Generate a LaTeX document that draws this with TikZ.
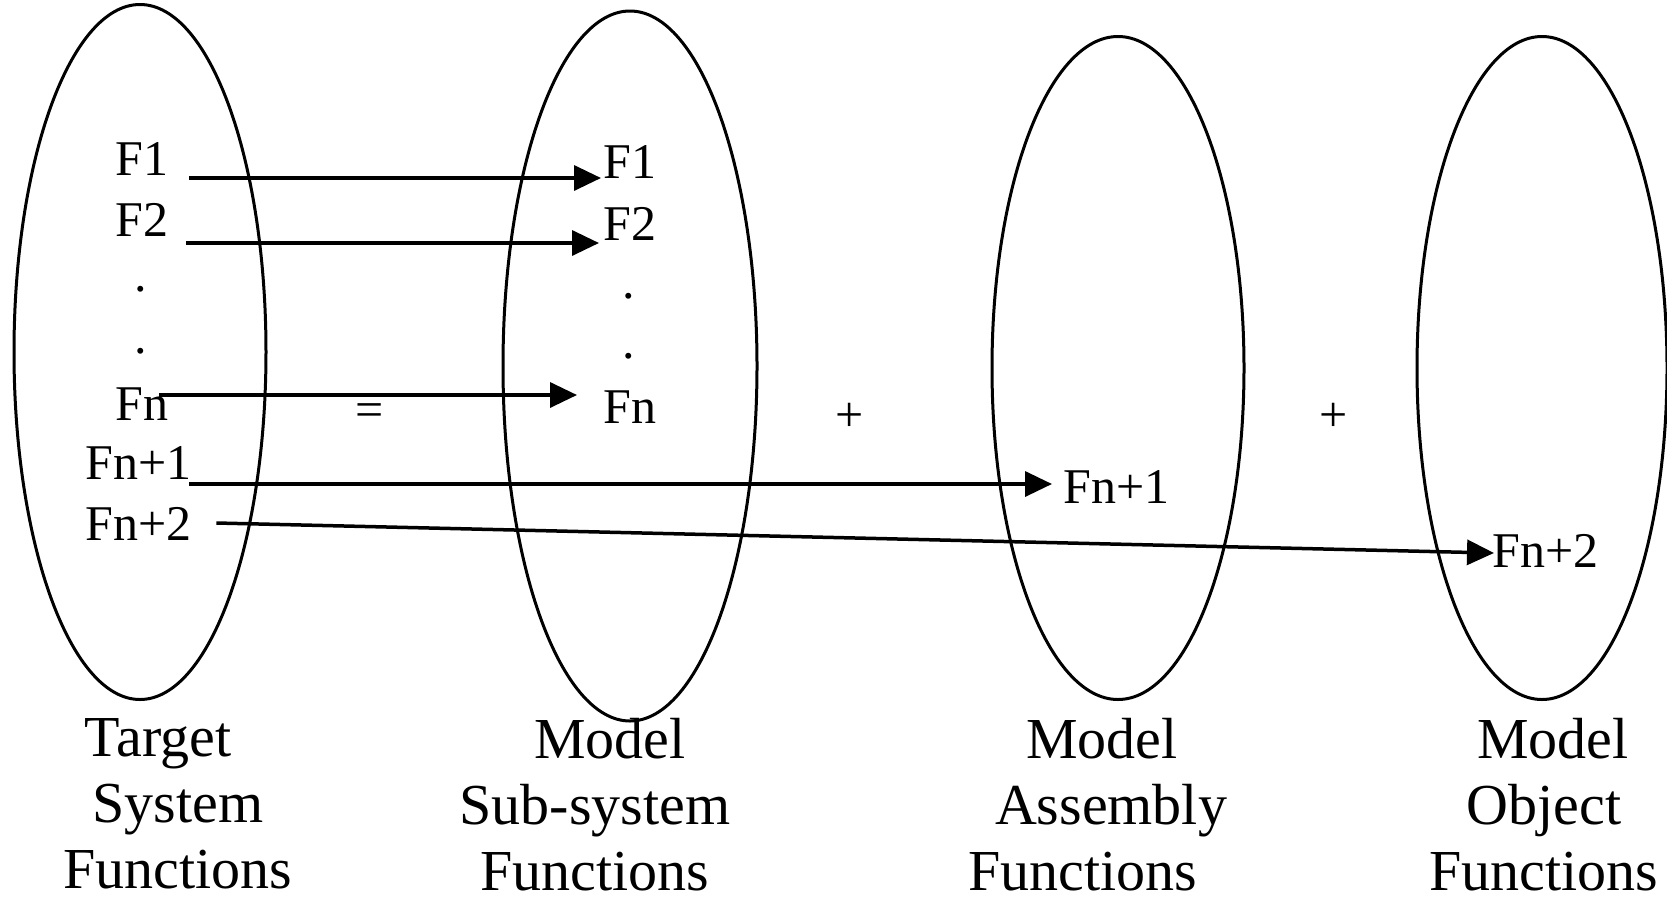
\documentclass[tikz,border=0pt]{standalone}
\usepackage{fontspec}
\setmainfont{Liberation Serif}
\usetikzlibrary{positioning, arrows.meta, shapes.geometric}
\tikzset{
  fset/.style={ellipse, draw, line width=3pt, inner sep=0pt},
  fnlbl/.style={inner sep=0pt, anchor=base west, font=\fontsize{50}{60}\selectfont},
  dotlbl/.style={inner sep=0pt, font=\fontsize{50}{60}\selectfont},
  oplbl/.style={inner sep=0pt, font=\fontsize{50}{60}\selectfont},
  caption/.style={inner sep=0pt, anchor=north, align=center, font=\fontsize{58}{66}\selectfont},
  map/.style={-{Triangle[length=27pt, width=25pt]}, line width=3.5pt},
}

\begin{document}
\begin{tikzpicture}[x=1pt, y=-1pt]
    \useasboundingbox (0,0) rectangle (1667,905);
    % the four function sets
    \node[fset, minimum width=252pt, minimum height=695pt] (target) at (140,352) {};
    \node[fset, minimum width=254pt, minimum height=710pt] (subsys) at (630,366) {};
    \node[fset, minimum width=252pt, minimum height=663pt] (assembly) at (1118,368) {};
    \node[fset, minimum width=250pt, minimum height=663pt] (object) at (1542,368) {};
    % target functions
    \node[fnlbl] (sf1) at (115,175) {F1};
    \node[fnlbl] (sf2) at (115,236) {F2};
    \node[dotlbl] (sdot1) at (141,289) {.};
    \node[dotlbl] (sdot2) at (141,351) {.};
    \node[fnlbl] (sfn) at (115,420) {Fn};
    \node[fnlbl] (sfn1) at (85,479) {Fn+1};
    \node[fnlbl] (sfn2) at (85,540) {Fn+2};
    % model functions
    \node[fnlbl] (tf1) at (603,178) {F1};
    \node[fnlbl] (tf2) at (603,240) {F2};
    \node[dotlbl] (tdot1) at (629,296) {.};
    \node[dotlbl] (tdot2) at (629,356) {.};
    \node[fnlbl] (tfn) at (603,423) {Fn};
    \node[fnlbl] (tfn1) at (1063,503) {Fn+1};
    \node[fnlbl] (tfn2) at (1492,567) {Fn+2};
    \node[oplbl] (eq) at (370,415) {=};
    \node[oplbl] (plus1) at (850,417) {+};
    \node[oplbl] (plus2) at (1334,417) {+};
    \draw[map] ([shift={(21pt,-3pt)}]sf1.base east) -- ([shift={(-2pt,0pt)}]tf1.base west);
    \draw[map] ([shift={(18pt,-7pt)}]sf2.base east) -- ([shift={(-4pt,-3pt)}]tf2.base west);
    \draw[map] ([shift={(-9pt,25pt)}]sfn.base east) -- ([shift={(-26pt,28pt)}]tfn.base west);
    \draw[map] ([shift={(-2pt,-5pt)}]sfn1.base east) -- ([shift={(-11pt,19pt)}]tfn1.base west);
    \draw[map] ([shift={(25pt,17pt)}]sfn2.base east) -- ([shift={(2pt,14pt)}]tfn2.base west);
    % captions
    \node[caption] (captarget) at (178,718) {Target\hspace*{40pt}\\System\\Functions};
    \node[caption] (capsubsys) at (595,718) {\hspace*{30pt}Model\\Sub-system\hspace*{16pt}\\Functions};
    \node[caption] (capassembly) at (1095,718) {\hspace*{14pt}Model\\\hspace*{32pt}Assembly\\Functions\hspace*{24pt}};
    \node[caption] (capobject) at (1544,718) {\hspace*{18pt}Model\\Object\\Functions};
\end{tikzpicture}
\end{document}
